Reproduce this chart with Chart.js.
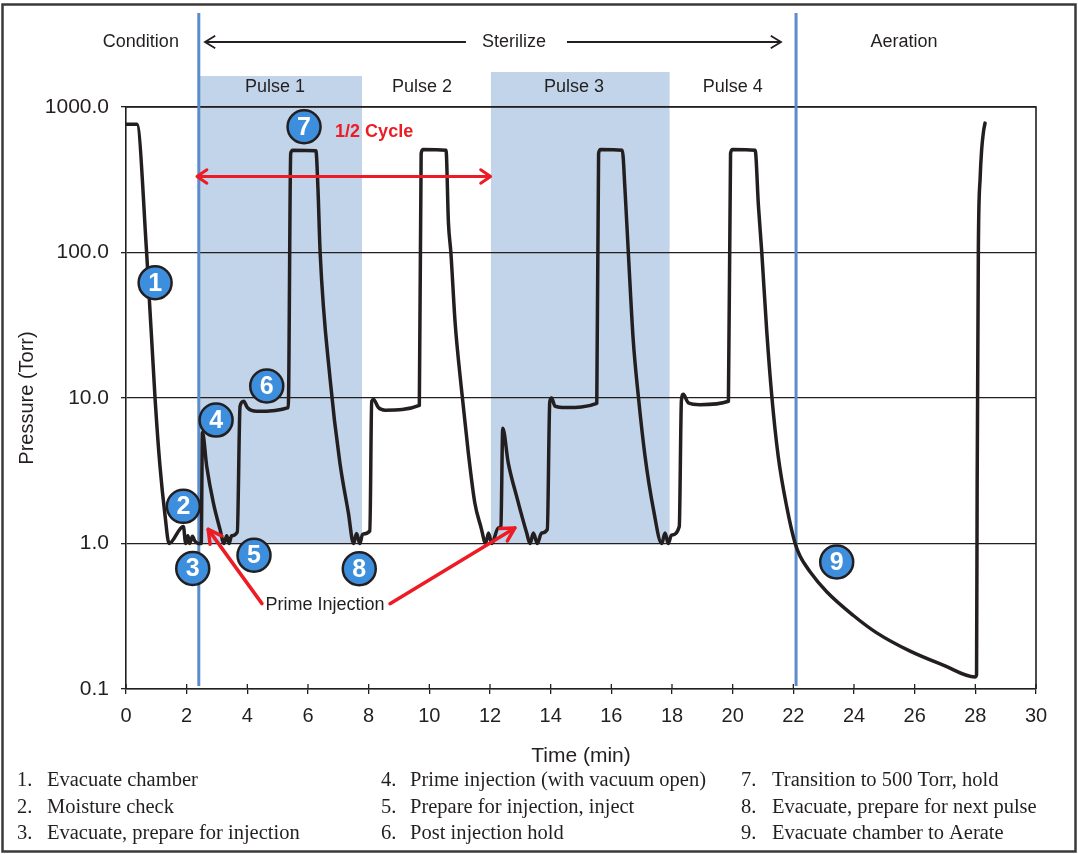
<!DOCTYPE html>
<html>
<head>
<meta charset="utf-8">
<script src="https://cdn.jsdelivr.net/npm/chart.js@4.4.1/dist/chart.umd.min.js"></script>
<style>
html,body{margin:0;padding:0;background:#ffffff;}
#wrap{position:relative;width:1078px;height:854px;}
canvas{display:block;}
</style>
</head>
<body>
<div id="wrap"><canvas id="c" width="1078" height="854"></canvas></div>
<script>
// ---- Data ----
const timeMin = [
  0.00, 0.36, 0.68, 0.96, 1.12, 1.29, 1.42,
  1.89, 1.97, 2.04, 2.10, 2.19, 2.27, 2.38, 2.48,
  2.52, 2.66, 2.88, 3.10, 3.23,
  3.32, 3.40, 3.48, 3.67, 3.76, 3.88, 4.00, 4.31, 5.35,
  5.43, 5.50, 6.26, 6.33, 6.40, 6.73, 7.05, 7.33, 7.50,
  7.60, 7.71, 7.80, 8.04, 8.10, 8.16, 8.32, 8.54, 9.67,
  9.73, 9.80, 10.55, 10.63, 10.71, 10.85, 11.05, 11.28, 11.50, 11.70, 11.86,
  11.95, 12.06, 12.27, 12.36, 12.42, 12.60, 12.88, 13.21, 13.32,
  13.43, 13.56, 13.70, 13.89, 13.97, 14.03, 14.14, 14.50, 15.52,
  15.58, 15.65, 16.36, 16.45, 16.56, 16.72, 16.89, 17.11, 17.39, 17.66,
  17.77, 17.88, 17.98, 18.24, 18.31, 18.37, 18.54, 18.92, 19.86,
  19.93, 20.00, 20.74, 20.85, 20.96, 21.12, 21.29, 21.50, 21.78, 22.06,
  22.22, 22.55, 23.10, 23.98, 24.75, 25.85, 26.94, 27.99,
  28.04, 28.06, 28.10, 28.16, 28.21, 28.27, 28.32
];
const pressureTorr = [
  760, 760, 100, 9.8, 3.4, 1.54, 1.0,
  1.31, 1.0, 1.13, 1.0, 1.12, 1.04, 1.0, 1.0,
  5.8, 3.4, 1.9, 1.25, 1.0,
  1.13, 1.0, 1.13, 1.2, 8.8, 9.5, 8.6, 8.1, 8.6,
  480, 505, 500, 270, 100, 13.4, 3.6, 1.63, 1.0,
  1.17, 1.0, 1.16, 1.22, 9.5, 9.75, 8.6, 8.25, 8.9,
  480, 510, 505, 160, 100, 33, 12, 4.3, 1.9, 1.3, 1.0,
  1.18, 1.0, 1.28, 1.32, 6.2, 3.6, 2.1, 1.18, 1.0,
  1.18, 1.0, 1.18, 1.25, 9.4, 10.0, 8.8, 8.6, 9.2,
  480, 510, 505, 271, 100, 25.3, 10.3, 4.0, 1.71, 1.0,
  1.18, 1.0, 1.14, 1.31, 9.6, 10.6, 9.26, 9.0, 9.5,
  480, 510, 505, 208, 100, 29.5, 10.3, 4.0, 1.8, 1.0,
  0.82, 0.64, 0.466, 0.32, 0.243, 0.182, 0.146, 0.121,
  0.125, 2.5, 108, 330, 513, 680, 775
];
const xTickValues = [0, 2, 4, 6, 8, 10, 12, 14, 16, 18, 20, 22, 24, 26, 28, 30];
const yTickValues = [0.1, 1, 10, 100, 1000];

const phaseLabels = ['Condition', 'Sterilize', 'Aeration'];
const phaseLabelX = [0.49, 12.79, 25.65];
const phaseBoundaryX = [2.40, 22.09];
const pulseLabels = ['Pulse 1', 'Pulse 2', 'Pulse 3', 'Pulse 4'];
const pulseLabelX = [4.91, 9.76, 14.77, 20.0];
const shadeStartX = [2.40, 12.03];
const shadeEndX = [7.78, 17.92];

const stepNumbers = ['1', '2', '3', '4', '5', '6', '7', '8', '9'];
const stepX = [0.96, 1.89, 2.20, 2.97, 4.22, 4.64, 5.87, 7.69, 23.43];
const stepY = [62, 1.8, 0.673, 7.05, 0.831, 12.1, 731, 0.67, 0.746];

const halfCycleLabel = '1/2 Cycle';
const halfCycleFromX = 2.34, halfCycleToX = 12.02, halfCycleY = 333;
const primeLabel = 'Prime Injection';
const primeTipX = [2.71, 12.82];
const primeTipY = [1.25, 1.28];

const legendItems = [
  ['1.', 'Evacuate chamber'],
  ['2.', 'Moisture check'],
  ['3.', 'Evacuate, prepare for injection'],
  ['4.', 'Prime injection (with vacuum open)'],
  ['5.', 'Prepare for injection, inject'],
  ['6.', 'Post injection hold'],
  ['7.', 'Transition to 500 Torr, hold'],
  ['8.', 'Evacuate, prepare for next pulse'],
  ['9.', 'Evacuate chamber to Aerate']
];

const INK = '#231f20';
const RED = '#ed1c24';
const SANS = '"Liberation Sans", Arial, sans-serif';
const SERIF = '"Liberation Serif", "Times New Roman", serif';

function chevron(ctx, x, y, ang, len, spread) {
  ctx.beginPath();
  ctx.moveTo(x - len * Math.cos(ang - spread), y - len * Math.sin(ang - spread));
  ctx.lineTo(x, y);
  ctx.lineTo(x - len * Math.cos(ang + spread), y - len * Math.sin(ang + spread));
  ctx.stroke();
}

const decorPlugin = {
  id: 'decor',
  beforeDraw(chart) {
    const ctx = chart.ctx, X = chart.scales.x, Y = chart.scales.y;
    ctx.save();
    ctx.strokeStyle = '#3a3a3a';
    ctx.lineWidth = 2.5;
    ctx.strokeRect(2.5, 4.5, 1073, 847);
    const tops = [76, 72];
    ctx.fillStyle = '#c2d4e9';
    for (let i = 0; i < shadeStartX.length; i++) {
      const x1 = X.getPixelForValue(shadeStartX[i]);
      const x2 = X.getPixelForValue(shadeEndX[i]);
      const yb = Y.getPixelForValue(1);
      ctx.fillRect(x1, tops[i], x2 - x1, yb - tops[i]);
    }
    ctx.restore();
  },
  beforeDatasetsDraw(chart) {
    const ctx = chart.ctx, X = chart.scales.x, Y = chart.scales.y, a = chart.chartArea;
    ctx.save();
    ctx.strokeStyle = INK;
    ctx.lineWidth = 1.6;
    ctx.beginPath();
    ctx.moveTo(a.left, a.top); ctx.lineTo(a.right, a.top); ctx.lineTo(a.right, a.bottom);
    ctx.stroke();
    ctx.lineWidth = 1.3;
    xTickValues.forEach(v => {
      const x = X.getPixelForValue(v);
      ctx.beginPath(); ctx.moveTo(x, a.bottom); ctx.lineTo(x, a.bottom - 5); ctx.stroke();
    });
    ctx.strokeStyle = '#5b8ccb';
    ctx.lineWidth = 3;
    phaseBoundaryX.forEach(v => {
      const x = X.getPixelForValue(v);
      ctx.beginPath(); ctx.moveTo(x, 13); ctx.lineTo(x, a.bottom - 3); ctx.stroke();
    });
    ctx.restore();
  },
  afterDatasetsDraw(chart) {
    const ctx = chart.ctx, X = chart.scales.x, Y = chart.scales.y;
    const px = v => X.getPixelForValue(v), py = v => Y.getPixelForValue(v);
    ctx.save();
    ctx.strokeStyle = RED; ctx.lineWidth = 3; ctx.lineCap = 'round'; ctx.lineJoin = 'round';
    const hx1 = px(halfCycleFromX), hx2 = px(halfCycleToX), hy = py(halfCycleY);
    ctx.beginPath(); ctx.moveTo(hx1 + 1, hy); ctx.lineTo(hx2 - 1, hy); ctx.stroke();
    chevron(ctx, hx1, hy, Math.PI, 12, 0.6);
    chevron(ctx, hx2, hy, 0, 12, 0.6);
    ctx.fillStyle = RED;
    ctx.font = 'bold 18px ' + SANS;
    ctx.textAlign = 'center'; ctx.textBaseline = 'middle';
    ctx.fillText(halfCycleLabel, px(8.18), py(678));

    const lx = px(6.56), ly = py(0.38);
    ctx.fillStyle = INK;
    ctx.font = '18px ' + SANS;
    ctx.fillText(primeLabel, lx, ly);
    ctx.strokeStyle = RED; ctx.lineWidth = 3.5;
    const tails = [[lx - 63, ly - 1], [lx + 65, ly - 1]];
    for (let i = 0; i < primeTipX.length; i++) {
      const tx = px(primeTipX[i]), ty = py(primeTipY[i]);
      const [sx, sy] = tails[i];
      ctx.beginPath(); ctx.moveTo(sx, sy); ctx.lineTo(tx, ty); ctx.stroke();
      chevron(ctx, tx, ty, Math.atan2(ty - sy, tx - sx), 15, 0.5);
    }

    ctx.textAlign = 'center'; ctx.textBaseline = 'middle';
    for (let i = 0; i < stepNumbers.length; i++) {
      const cx = px(stepX[i]), cy = py(stepY[i]);
      ctx.beginPath(); ctx.arc(cx, cy, 16.5, 0, Math.PI * 2);
      ctx.fillStyle = '#3d8edc'; ctx.fill();
      ctx.strokeStyle = INK; ctx.lineWidth = 2.5; ctx.stroke();
      ctx.fillStyle = '#ffffff';
      ctx.font = 'bold 25px ' + SANS;
      ctx.fillText(stepNumbers[i], cx, cy + 1);
    }
    ctx.restore();
  },
  afterDraw(chart) {
    const ctx = chart.ctx, X = chart.scales.x;
    const px = v => X.getPixelForValue(v);
    ctx.save();
    ctx.fillStyle = INK;
    ctx.font = '18px ' + SANS;
    ctx.textAlign = 'center'; ctx.textBaseline = 'middle';
    const hy = 42;
    phaseLabels.forEach((t, i) => ctx.fillText(t, px(phaseLabelX[i]), hy));
    pulseLabels.forEach((t, i) => ctx.fillText(t, px(pulseLabelX[i]), 87));
    ctx.strokeStyle = INK; ctx.lineWidth = 1.8;
    const sx = px(phaseLabelX[1]);
    const l1 = 205, l2 = sx - 48, r1 = sx + 53, r2 = 781;
    ctx.beginPath(); ctx.moveTo(l1, hy); ctx.lineTo(l2, hy); ctx.stroke();
    ctx.beginPath(); ctx.moveTo(r1, hy); ctx.lineTo(r2, hy); ctx.stroke();
    chevron(ctx, l1, hy, Math.PI, 12, 0.55);
    chevron(ctx, r2, hy, 0, 12, 0.55);

    ctx.font = '20.5px ' + SERIF;
    ctx.textAlign = 'left';
    const colNum = [17, 381, 741], colTxt = [47, 410, 772], rows = [781, 808, 834];
    legendItems.forEach((it, i) => {
      const c = Math.floor(i / 3), r = i % 3;
      ctx.fillText(it[0], colNum[c], rows[r]);
      ctx.fillText(it[1], colTxt[c], rows[r]);
    });
    ctx.restore();
  }
};

const ctxEl = document.getElementById('c');
new Chart(ctxEl, {
  type: 'line',
  data: {
    datasets: [{
      data: timeMin.map((t, i) => ({ x: t, y: pressureTorr[i] })),
      borderColor: INK,
      borderWidth: 3.5,
      pointRadius: 0,
      fill: false,
      cubicInterpolationMode: 'monotone',
      borderJoinStyle: 'round',
      borderCapStyle: 'round'
    }]
  },
  options: {
    responsive: false,
    animation: false,
    devicePixelRatio: 1,
    layout: { padding: { left: 0, right: 42, top: 107, bottom: 85 } },
    plugins: { legend: { display: false }, tooltip: { enabled: false } },
    scales: {
      x: {
        type: 'linear', min: 0, max: 30,
        afterBuildTicks: s => { s.ticks = xTickValues.map(v => ({ value: v })); },
        afterFit: s => { s.height = 80; },
        ticks: { color: INK, font: { family: SANS, size: 20 }, padding: 10, maxRotation: 0, autoSkip: false },
        grid: { display: true, drawOnChartArea: false, drawTicks: true, tickLength: 5, color: INK, lineWidth: 1.3 },
        border: { display: true, color: INK, width: 1.6 },
        title: { display: true, text: 'Time (min)', color: INK, font: { family: SANS, size: 21 }, padding: { top: 0, bottom: 0 } }
      },
      y: {
        type: 'logarithmic', min: 0.1, max: 1000,
        afterBuildTicks: s => { s.ticks = yTickValues.map(v => ({ value: v })); },
        afterFit: s => { s.width = 126; },
        ticks: { color: INK, font: { family: SANS, size: 21 }, padding: 12, autoSkip: false,
          callback: v => Number(v).toFixed(1) },
        grid: { display: true, drawOnChartArea: true, drawTicks: true, tickLength: 5, color: INK, lineWidth: 1.3 },
        border: { display: true, color: INK, width: 1.6 },
        title: { display: true, text: 'Pressure (Torr)', color: INK, font: { family: SANS, size: 20 }, padding: { top: 15, bottom: 0 } }
      }
    }
  },
  plugins: [decorPlugin]
});
</script>
</body>
</html>
